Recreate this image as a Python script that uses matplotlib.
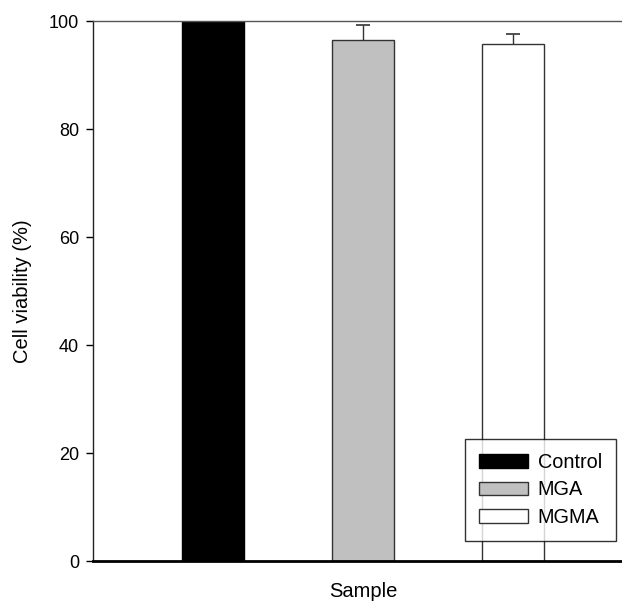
import numpy as np
import matplotlib
matplotlib.use("Agg")
import matplotlib.pyplot as plt

plt.rcParams["font.family"] = ["Liberation Sans", "DejaVu Sans"]

samples = ["Control", "MGA", "MGMA"]
viability = [100.0, 96.5, 95.8]
err_up = [0.0, 2.7, 1.8]
colors = ["black", "#c0c0c0", "white"]

fig = plt.figure(figsize=(6.22, 6.03), dpi=100)
ax = fig.add_axes([93 / 622, 42 / 603, 540 / 622, 540 / 603])

x = np.arange(1, len(samples) + 1)
for xi, v, c, name in zip(x, viability, colors, samples):
    ax.bar(xi, v, width=0.41, color=c,
           edgecolor="black" if c == "black" else "#333333",
           linewidth=1.0, label=name, zorder=2)

# upper error bars only (control has none), hide the lower cap
for xi, v, e in zip(x, viability, err_up):
    if e > 0:
        _, caps, _ = ax.errorbar(xi, v, yerr=[[0], [e]], fmt="none",
                                 ecolor="#333333", elinewidth=1.0,
                                 capsize=5, capthick=1.2, zorder=3)
        caps[0].set_visible(False)

ax.set_xlim(0.2, 3.8)
ax.set_ylim(0, 100)
ax.set_yticks([0, 20, 40, 60, 80, 100])
ax.set_xticks([])
ax.tick_params(axis="y", labelsize=13, length=5, width=1, direction="out", pad=5)

ax.spines["right"].set_visible(False)
ax.spines["top"].set_color("#555555")
ax.spines["top"].set_linewidth(1.0)
ax.spines["left"].set_color("#222222")
ax.spines["left"].set_linewidth(1.0)
ax.spines["bottom"].set_color("black")
ax.spines["bottom"].set_linewidth(2.0)

ax.set_ylabel("Cell viability (%)", fontsize=14.5, labelpad=12)
ax.set_xlabel("Sample", fontsize=14.5, labelpad=15)

leg = ax.legend(loc="lower left", bbox_to_anchor=(0.689, 0.037),
                fontsize=14.3, frameon=True, fancybox=False, shadow=False,
                handlelength=2.44, handleheight=0.68, handletextpad=0.5,
                labelspacing=0.42, borderpad=0.72, borderaxespad=0)
leg.get_frame().set_edgecolor("black")
leg.get_frame().set_linewidth(1.0)

fig.savefig("out.png", dpi=100)
